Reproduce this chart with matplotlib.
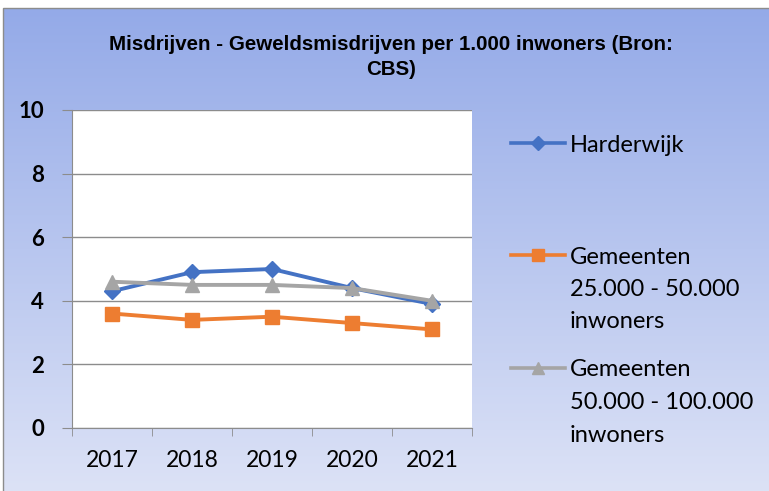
import numpy as np
import matplotlib
matplotlib.use('Agg')
import matplotlib.pyplot as plt
from matplotlib.patches import Rectangle
from matplotlib.lines import Line2D

years = ['2017', '2018', '2019', '2020', '2021']
harderwijk = [4.3, 4.9, 5.0, 4.4, 3.9]
gem_25_50 = [3.6, 3.4, 3.5, 3.3, 3.1]
gem_50_100 = [4.6, 4.5, 4.5, 4.4, 4.0]
labels = ['Harderwijk',
          'Gemeenten\n25.000 - 50.000\ninwoners',
          'Gemeenten\n50.000 - 100.000\ninwoners']
W, H = 769, 491

fig = plt.figure(figsize=(W / 100, H / 100), dpi=100)

# gradient background of the chart area
bg = fig.add_axes([3 / W, 0, 1 - 3 / W, 1 - 8 / H], zorder=-10)
grad = np.linspace(0, 1, 256)[:, None, None]
top = np.array([148, 170, 232]) / 255
bot = np.array([220, 226, 246]) / 255
img = top + (bot - top) * grad
bg.imshow(img, aspect='auto', extent=[0, 1, 0, 1])
bg.set_axis_off()
fig.patches.append(Rectangle((3 / W, -0.01), 1, 1 - 8 / H + 0.01,
                             transform=fig.transFigure, fill=False,
                             edgecolor='#8c8c8c', lw=1, zorder=-5))

ax = fig.add_axes([72 / W, 1 - 428 / H, 400 / W, 318 / H])
ax.set_facecolor('white')
x = np.arange(len(years))
styles = [dict(color='#4472C4', marker='D', ms=8.5),
          dict(color='#ED7D31', marker='s', ms=10.5),
          dict(color='#A5A5A5', marker='^', ms=10)]
for vals, st, z in zip([harderwijk, gem_25_50, gem_50_100], styles, [3, 3, 4]):
    ax.plot(x, vals, lw=2.8, zorder=z, **st)

ax.set_ylim(0, 10)
ax.set_yticks([0, 2, 4, 6, 8, 10])
ax.set_xlim(-0.5, len(years) - 0.5)
ax.set_xticks(x)
ax.set_xticklabels(years, fontsize=16.5, family='Lato')
ax.set_xticks(np.arange(-0.5, len(years)), minor=True)
ax.tick_params(axis='x', which='major', length=0, pad=16)
ax.tick_params(axis='x', which='minor', length=6, color='#8c8c8c')
ax.tick_params(axis='y', length=7, color='#8c8c8c', pad=13)
for t in ax.get_yticklabels():
    t.set_fontsize(16)
    t.set_fontweight('bold')
    t.set_family('Lato')
ax.grid(axis='y', color='#8c8c8c', lw=1)
ax.set_axisbelow(True)
for s in ['top', 'right']:
    ax.spines[s].set_visible(False)
ax.spines['left'].set_color('#8c8c8c')
ax.spines['bottom'].set_color('#8c8c8c')

fig.text(391 / W, 1 - 57 / H, 'Misdrijven - Geweldsmisdrijven per 1.000 inwoners (Bron:\nCBS)',
         ha='center', va='center', fontsize=14.8, fontweight='bold',
         family='Liberation Sans', linespacing=1.45)

# legend, drawn by hand so the key lines up with the first text line
leg_y = [143, 255, 368]
for lab, st, y in zip(labels, styles, leg_y):
    yf = 1 - y / H
    fig.add_artist(Line2D(np.array([511, 538, 565]) / W, [yf] * 3, lw=2.6,
                          markevery=[1], color=st['color'], marker=st['marker'],
                          ms=st['ms'] * 0.85))
    for i, line in enumerate(lab.split('\n')):
        fig.text(570 / W, 1 - (y + i * 32.5) / H, line, ha='left', va='center_baseline',
                 fontsize=17, family='Lato')

fig.savefig('out.png', dpi=100)
